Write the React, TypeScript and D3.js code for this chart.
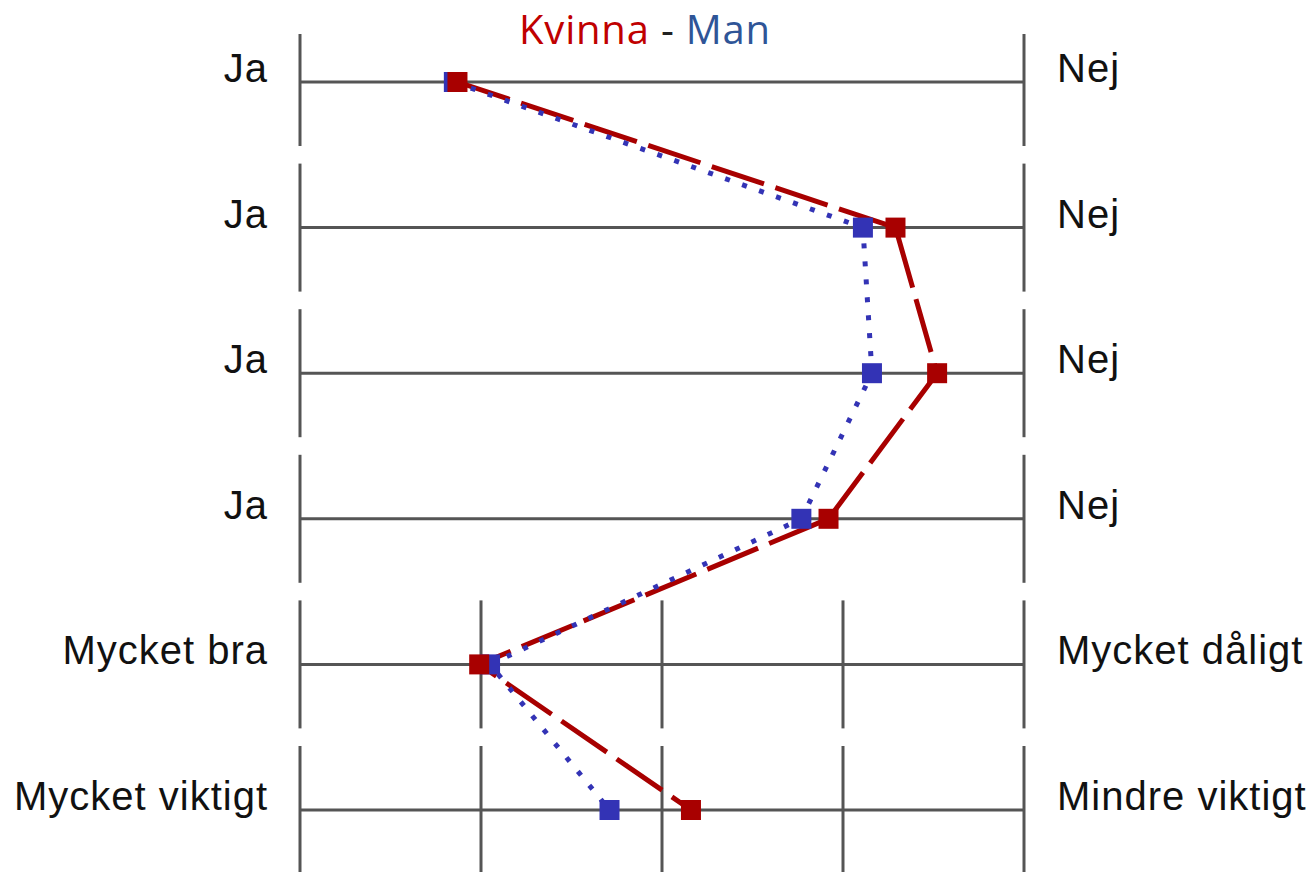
import React from "react";
import * as d3 from "d3";

// rows of the semantic-differential chart, top to bottom
const rows = [0, 1, 2, 3, 4, 5];
const leftLabels = ["Ja", "Ja", "Ja", "Ja", "Mycket bra", "Mycket viktigt"];
const rightLabels = ["Nej", "Nej", "Nej", "Nej", "Mycket dåligt", "Mindre viktigt"];
// which scale positions get a vertical tick on each row
const rowTicks = [
  [1, 5],
  [1, 5],
  [1, 5],
  [1, 5],
  [1, 2, 3, 4, 5],
  [1, 2, 3, 4, 5],
];
// mean answers on a 1..5 scale
const kvinna = [1.87, 4.29, 4.52, 3.92, 1.99, 3.16];
const man = [1.85, 4.11, 4.16, 3.77, 2.05, 2.71];

const W = 1311;
const H = 872;

export default function App() {
  const x = d3.scaleLinear().domain([1, 5]).range([300, 1024]);
  const y = d3.scalePoint<number>().domain(rows).range([82, 810]);
  const half = 64;

  const line = d3
    .line<number>()
    .x((d) => x(d))
    .y((_, i) => y(i) as number);

  const sq = 20;
  const font = "'Liberation Sans', Arial, sans-serif";

  return (
    <svg
      width={W}
      height={H}
      style={{ position: "absolute", left: 0, top: 0, background: "#fff" }}
    >
      {/* title */}
      <text
        x={645}
        y={44}
        textAnchor="middle"
        fontFamily="'Open Sans', 'Noto Sans', sans-serif"
        fontSize={40}
        letterSpacing={0.8}
      >
        <tspan fill="#C00000">Kvinna</tspan>
        <tspan fill="#222"> - </tspan>
        <tspan fill="#2F5597">Man</tspan>
      </text>

      {rows.map((r) => {
        const cy = y(r) as number;
        const top = r === 0 ? 34 : cy - half;
        return (
          <g key={r}>
            <line x1={x(1)} x2={x(5)} y1={cy} y2={cy} stroke="#555" strokeWidth={3} />
            {rowTicks[r].map((t) => (
              <line
                key={t}
                x1={x(t)}
                x2={x(t)}
                y1={top}
                y2={cy + half}
                stroke="#555"
                strokeWidth={3}
              />
            ))}
            <text
              x={268}
              y={cy}
              textAnchor="end"
              fontFamily={font}
              fontSize={40}
              letterSpacing={1}
              fill="#111"
            >
              {leftLabels[r]}
            </text>
            <text
              x={1057}
              y={cy}
              fontFamily={font}
              fontSize={40}
              letterSpacing={1}
              fill="#111"
            >
              {rightLabels[r]}
            </text>
          </g>
        );
      })}

      <path
        d={line(kvinna) || ""}
        fill="none"
        stroke="#A80000"
        strokeWidth={5}
        strokeDasharray="55 12"
      />
      <path
        d={line(man) || ""}
        fill="none"
        stroke="#3333B5"
        strokeWidth={5}
        strokeDasharray="5 13"
      />

      {man.map((v, i) => (
        <rect
          key={"m" + i}
          x={x(v) - sq / 2}
          y={(y(i) as number) - sq / 2}
          width={sq}
          height={sq}
          fill="#3333B5"
        />
      ))}
      {kvinna.map((v, i) => (
        <rect
          key={"k" + i}
          x={x(v) - sq / 2}
          y={(y(i) as number) - sq / 2}
          width={sq}
          height={sq}
          fill="#A80000"
        />
      ))}
    </svg>
  );
}
